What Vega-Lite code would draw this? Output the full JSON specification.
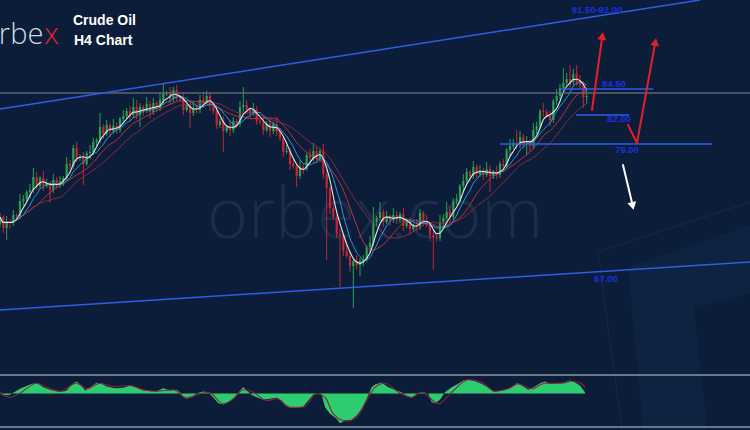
{
  "$schema": "https://vega.github.io/schema/vega-lite/v6.json",
  "width": 750,
  "height": 430,
  "autosize": {"type": "none"},
  "padding": 0,
  "background": "#0b1d38",
  "config": {"view": {"stroke": null}},
  "datasets": {
    "candles": [
      {"t":0,"o":71.0,"h":72.1,"l":70.7,"c":71.7},{"t":1,"o":71.7,"h":71.9,"l":70.1,"c":70.6},{"t":2,"o":70.6,"h":71.8,"l":69.4,"c":71.2},{"t":3,"o":71.2,"h":71.5,"l":70.5,"c":71.1},{"t":4,"o":71.1,"h":72.4,"l":70.8,"c":71.9},{"t":5,"o":71.9,"h":72.1,"l":71.5,"c":71.8},{"t":6,"o":71.8,"h":74.0,"l":71.5,"c":73.3},{"t":7,"o":73.3,"h":73.9,"l":72.8,"c":73.5},{"t":8,"o":73.5,"h":74.4,"l":73.3,"c":74.2},{"t":9,"o":74.2,"h":75.0,"l":73.6,"c":74.4},
      {"t":10,"o":74.4,"h":76.6,"l":74.1,"c":75.7},{"t":11,"o":75.7,"h":76.2,"l":74.4,"c":74.8},{"t":12,"o":74.8,"h":75.8,"l":74.5,"c":75.6},{"t":13,"o":75.6,"h":76.3,"l":74.3,"c":74.8},{"t":14,"o":74.8,"h":75.5,"l":74.6,"c":75.1},{"t":15,"o":75.1,"h":75.3,"l":73.1,"c":74.4},{"t":16,"o":74.4,"h":76.0,"l":74.1,"c":75.4},{"t":17,"o":75.4,"h":75.7,"l":74.5,"c":74.9},{"t":18,"o":74.9,"h":75.8,"l":74.6,"c":75.3},{"t":19,"o":75.3,"h":75.8,"l":74.8,"c":75.6},
      {"t":20,"o":75.6,"h":77.7,"l":75.4,"c":77.0},{"t":21,"o":77.0,"h":77.4,"l":76.2,"c":76.8},{"t":22,"o":76.8,"h":78.9,"l":76.5,"c":78.6},{"t":23,"o":78.6,"h":79.2,"l":77.2,"c":77.6},{"t":24,"o":77.6,"h":78.0,"l":77.3,"c":77.7},{"t":25,"o":77.7,"h":78.2,"l":74.9,"c":77.0},{"t":26,"o":77.0,"h":78.3,"l":76.8,"c":78.1},{"t":27,"o":78.1,"h":78.9,"l":77.5,"c":78.2},{"t":28,"o":78.2,"h":79.6,"l":77.9,"c":79.2},{"t":29,"o":79.2,"h":79.6,"l":78.8,"c":79.4},
      {"t":30,"o":79.4,"h":82.1,"l":79.1,"c":80.7},{"t":31,"o":80.7,"h":81.0,"l":79.5,"c":80.0},{"t":32,"o":80.0,"h":81.4,"l":79.8,"c":80.9},{"t":33,"o":80.9,"h":81.1,"l":79.7,"c":80.3},{"t":34,"o":80.3,"h":81.5,"l":80.0,"c":80.8},{"t":35,"o":80.8,"h":81.2,"l":80.0,"c":80.4},{"t":36,"o":80.4,"h":81.7,"l":80.1,"c":81.5},{"t":37,"o":81.5,"h":82.4,"l":81.0,"c":81.8},{"t":38,"o":81.8,"h":82.6,"l":81.6,"c":82.3},{"t":39,"o":82.3,"h":82.8,"l":81.3,"c":81.9},
      {"t":40,"o":81.9,"h":83.6,"l":81.6,"c":82.7},{"t":41,"o":82.7,"h":83.4,"l":81.5,"c":81.9},{"t":42,"o":81.9,"h":83.1,"l":80.7,"c":82.7},{"t":43,"o":82.7,"h":82.9,"l":81.8,"c":82.3},{"t":44,"o":82.3,"h":83.7,"l":82.1,"c":83.0},{"t":45,"o":83.0,"h":83.3,"l":81.6,"c":82.2},{"t":46,"o":82.2,"h":83.6,"l":81.9,"c":83.1},{"t":47,"o":83.1,"h":83.3,"l":82.2,"c":82.6},{"t":48,"o":82.6,"h":84.1,"l":82.3,"c":83.4},{"t":49,"o":83.4,"h":85.1,"l":82.9,"c":84.0},
      {"t":50,"o":84.0,"h":84.3,"l":83.8,"c":84.1},{"t":51,"o":84.1,"h":84.7,"l":82.9,"c":83.5},{"t":52,"o":83.5,"h":84.7,"l":83.2,"c":84.4},{"t":53,"o":84.4,"h":84.9,"l":83.3,"c":83.7},{"t":54,"o":83.7,"h":83.9,"l":83.2,"c":83.5},{"t":55,"o":83.5,"h":84.2,"l":81.9,"c":82.4},{"t":56,"o":82.4,"h":83.3,"l":82.2,"c":82.9},{"t":57,"o":82.9,"h":83.1,"l":80.6,"c":82.1},{"t":58,"o":82.1,"h":83.2,"l":81.8,"c":82.6},{"t":59,"o":82.6,"h":82.9,"l":82.0,"c":82.4},
      {"t":60,"o":82.4,"h":83.9,"l":82.1,"c":83.4},{"t":61,"o":83.4,"h":84.2,"l":82.7,"c":83.2},{"t":62,"o":83.2,"h":84.3,"l":83.0,"c":83.8},{"t":63,"o":83.8,"h":84.2,"l":82.3,"c":82.9},{"t":64,"o":82.9,"h":83.1,"l":82.0,"c":82.3},{"t":65,"o":82.3,"h":82.9,"l":80.5,"c":80.9},{"t":66,"o":80.9,"h":81.6,"l":80.6,"c":81.3},{"t":67,"o":81.3,"h":81.8,"l":78.2,"c":80.3},{"t":68,"o":80.3,"h":80.9,"l":80.1,"c":80.7},{"t":69,"o":80.7,"h":81.4,"l":79.8,"c":80.4},
      {"t":70,"o":80.4,"h":81.7,"l":80.1,"c":81.3},{"t":71,"o":81.3,"h":81.5,"l":80.6,"c":81.0},{"t":72,"o":81.0,"h":83.3,"l":80.7,"c":82.7},{"t":73,"o":82.7,"h":84.7,"l":82.2,"c":82.9},{"t":74,"o":82.9,"h":83.4,"l":82.3,"c":82.5},{"t":75,"o":82.5,"h":82.7,"l":81.5,"c":82.1},{"t":76,"o":82.1,"h":83.1,"l":81.8,"c":82.4},{"t":77,"o":82.4,"h":82.8,"l":80.9,"c":81.3},{"t":78,"o":81.3,"h":81.5,"l":80.9,"c":81.2},{"t":79,"o":81.2,"h":81.8,"l":79.9,"c":80.4},
      {"t":80,"o":80.4,"h":81.3,"l":80.2,"c":81.0},{"t":81,"o":81.0,"h":81.5,"l":79.7,"c":80.3},{"t":82,"o":80.3,"h":81.2,"l":80.0,"c":81.0},{"t":83,"o":81.0,"h":81.7,"l":79.8,"c":80.2},{"t":84,"o":80.2,"h":80.6,"l":79.3,"c":79.6},{"t":85,"o":79.6,"h":79.8,"l":77.7,"c":78.2},{"t":86,"o":78.2,"h":78.9,"l":78.0,"c":78.3},{"t":87,"o":78.3,"h":78.6,"l":76.4,"c":77.0},{"t":88,"o":77.0,"h":77.5,"l":76.5,"c":76.8},{"t":89,"o":76.8,"h":77.0,"l":74.7,"c":75.8},
      {"t":90,"o":75.8,"h":77.4,"l":75.5,"c":76.7},{"t":91,"o":76.7,"h":77.1,"l":76.0,"c":76.5},{"t":92,"o":76.5,"h":78.1,"l":76.3,"c":77.9},{"t":93,"o":77.9,"h":78.5,"l":77.0,"c":77.6},{"t":94,"o":77.6,"h":79.1,"l":77.3,"c":78.3},{"t":95,"o":78.3,"h":78.8,"l":77.1,"c":77.5},{"t":96,"o":77.5,"h":78.5,"l":77.2,"c":78.3},{"t":97,"o":78.3,"h":79.0,"l":75.5,"c":76.0},{"t":98,"o":76.0,"h":76.4,"l":67.4,"c":74.6},{"t":99,"o":74.6,"h":74.8,"l":72.0,"c":72.6},
      {"t":100,"o":72.6,"h":73.2,"l":71.4,"c":71.7},{"t":101,"o":71.7,"h":72.0,"l":69.6,"c":70.0},{"t":102,"o":70.0,"h":70.5,"l":64.7,"c":69.9},{"t":103,"o":69.9,"h":70.1,"l":67.8,"c":68.3},{"t":104,"o":68.3,"h":69.0,"l":67.6,"c":67.8},{"t":105,"o":67.8,"h":68.2,"l":66.2,"c":66.8},{"t":106,"o":66.8,"h":67.5,"l":62.6,"c":67.3},{"t":107,"o":67.3,"h":67.9,"l":66.5,"c":66.9},{"t":108,"o":66.9,"h":67.6,"l":65.8,"c":67.3},{"t":109,"o":67.3,"h":67.9,"l":66.8,"c":67.4},
      {"t":110,"o":67.4,"h":68.9,"l":67.2,"c":68.7},{"t":111,"o":68.7,"h":69.8,"l":68.1,"c":69.1},{"t":112,"o":69.1,"h":72.7,"l":68.8,"c":71.2},{"t":113,"o":71.2,"h":71.8,"l":70.8,"c":71.6},{"t":114,"o":71.6,"h":73.2,"l":71.3,"c":72.2},{"t":115,"o":72.2,"h":72.5,"l":70.7,"c":71.2},{"t":116,"o":71.2,"h":72.3,"l":71.0,"c":71.8},{"t":117,"o":71.8,"h":72.0,"l":70.8,"c":71.4},{"t":118,"o":71.4,"h":72.6,"l":71.1,"c":71.9},{"t":119,"o":71.9,"h":72.3,"l":71.0,"c":71.4},
      {"t":120,"o":71.4,"h":72.2,"l":71.1,"c":72.0},{"t":121,"o":72.0,"h":72.6,"l":70.3,"c":70.8},{"t":122,"o":70.8,"h":71.5,"l":70.6,"c":71.2},{"t":123,"o":71.2,"h":71.7,"l":69.9,"c":70.5},{"t":124,"o":70.5,"h":71.0,"l":70.2,"c":70.8},{"t":125,"o":70.8,"h":71.5,"l":70.3,"c":70.7},{"t":126,"o":70.7,"h":72.5,"l":70.4,"c":72.1},{"t":127,"o":72.1,"h":72.3,"l":70.8,"c":71.3},{"t":128,"o":71.3,"h":71.9,"l":70.7,"c":70.9},{"t":129,"o":70.9,"h":71.2,"l":69.3,"c":69.9},
      {"t":130,"o":69.9,"h":70.4,"l":66.4,"c":69.7},{"t":131,"o":69.7,"h":69.9,"l":69.2,"c":69.6},{"t":132,"o":69.6,"h":71.9,"l":69.3,"c":71.2},{"t":133,"o":71.2,"h":72.0,"l":70.7,"c":71.6},{"t":134,"o":71.6,"h":73.2,"l":71.4,"c":72.2},{"t":135,"o":72.2,"h":72.8,"l":71.1,"c":71.7},{"t":136,"o":71.7,"h":73.6,"l":71.4,"c":73.3},{"t":137,"o":73.3,"h":74.0,"l":72.9,"c":73.5},{"t":138,"o":73.5,"h":75.0,"l":73.2,"c":74.8},{"t":139,"o":74.8,"h":76.0,"l":74.3,"c":75.3},
      {"t":140,"o":75.3,"h":76.6,"l":75.1,"c":76.2},{"t":141,"o":76.2,"h":76.4,"l":75.2,"c":75.8},{"t":142,"o":75.8,"h":77.3,"l":75.5,"c":76.7},{"t":143,"o":76.7,"h":77.0,"l":75.6,"c":76.0},{"t":144,"o":76.0,"h":76.9,"l":75.7,"c":76.4},{"t":145,"o":76.4,"h":76.6,"l":75.4,"c":75.9},{"t":146,"o":75.9,"h":77.2,"l":75.7,"c":76.5},{"t":147,"o":76.5,"h":76.9,"l":74.2,"c":75.8},{"t":148,"o":75.8,"h":76.4,"l":75.5,"c":76.2},{"t":149,"o":76.2,"h":76.8,"l":75.5,"c":75.9},
      {"t":150,"o":75.9,"h":77.3,"l":75.6,"c":77.0},{"t":151,"o":77.0,"h":77.5,"l":76.3,"c":76.8},{"t":152,"o":76.8,"h":78.6,"l":76.6,"c":78.4},{"t":153,"o":78.4,"h":79.5,"l":77.8,"c":78.8},{"t":154,"o":78.8,"h":79.5,"l":78.5,"c":79.1},{"t":155,"o":79.1,"h":80.4,"l":78.5,"c":78.9},{"t":156,"o":78.9,"h":80.3,"l":78.6,"c":79.7},{"t":157,"o":79.7,"h":80.0,"l":78.6,"c":79.1},{"t":158,"o":79.1,"h":79.8,"l":77.9,"c":79.3},{"t":159,"o":79.3,"h":79.5,"l":78.2,"c":78.8},
      {"t":160,"o":78.8,"h":81.1,"l":78.5,"c":80.4},{"t":161,"o":80.4,"h":81.2,"l":80.0,"c":80.8},{"t":162,"o":80.8,"h":82.5,"l":80.5,"c":82.3},{"t":163,"o":82.3,"h":83.1,"l":81.7,"c":82.2},{"t":164,"o":82.2,"h":82.5,"l":81.6,"c":81.8},{"t":165,"o":81.8,"h":82.3,"l":80.8,"c":81.4},{"t":166,"o":81.4,"h":83.5,"l":81.1,"c":83.3},{"t":167,"o":83.3,"h":84.5,"l":82.9,"c":83.8},{"t":168,"o":83.8,"h":85.0,"l":83.5,"c":84.6},{"t":169,"o":84.6,"h":86.6,"l":84.4,"c":85.1},
      {"t":170,"o":85.1,"h":86.1,"l":84.9,"c":85.5},{"t":171,"o":85.5,"h":86.9,"l":84.6,"c":85.2},{"t":172,"o":85.2,"h":86.5,"l":84.9,"c":86.0},{"t":173,"o":86.0,"h":86.9,"l":84.8,"c":85.2},{"t":174,"o":85.2,"h":85.9,"l":84.6,"c":84.9},{"t":175,"o":84.9,"h":85.3,"l":82.6,"c":83.7},{"t":176,"o":83.7,"h":84.6,"l":83.0,"c":83.8}
    ],
    "osc": [
      {"t":0,"v":0},{"t":1,"v":-2},{"t":3,"v":-1.3},{"t":6,"v":4.7},{"t":9,"v":9},{"t":11,"v":10.7},{"t":13,"v":6.3},{"t":15,"v":3.7},{"t":17,"v":2.3},{"t":19,"v":2},{"t":20,"v":3},{"t":21.5,"v":9},{"t":23,"v":12},{"t":24.5,"v":8},{"t":25.5,"v":3},{"t":27,"v":6.3},{"t":29,"v":10.7},{"t":30.5,"v":9.7},{"t":32,"v":7},{"t":34.5,"v":5.3},{"t":37,"v":5.7},{"t":39,"v":8},{"t":41,"v":5.7},{"t":43,"v":3},{"t":45,"v":2.3},{"t":47,"v":2.3},{"t":49,"v":5.3},{"t":51,"v":3},{"t":53,"v":3.7},{"t":54,"v":1.3},{"t":55,"v":-3.7},{"t":56,"v":-5.3},{"t":57.5,"v":-3.7},{"t":59,"v":0.3},{"t":61,"v":2},{"t":62.5,"v":1},{"t":64,"v":-4.3},{"t":65.5,"v":-9.7},{"t":67,"v":-11},{"t":69,"v":-7.7},{"t":70.5,"v":-3},{"t":72,"v":3},{"t":73,"v":6.3},{"t":74,"v":3},{"t":75.5,"v":-1.3},{"t":77,"v":-3.7},{"t":79,"v":-6.3},{"t":81,"v":-5.3},{"t":83,"v":-4.3},{"t":84.5,"v":-7},{"t":85.5,"v":-12},{"t":87,"v":-14.3},{"t":89,"v":-14.3},{"t":91,"v":-13},{"t":92.5,"v":-7},{"t":94,"v":-1},{"t":95.5,"v":0.3},{"t":96.5,"v":-1.3},{"t":97.5,"v":-13.7},{"t":99,"v":-20.3},{"t":101,"v":-25.3},{"t":102,"v":-29.7},{"t":103.5,"v":-27},{"t":105.5,"v":-26.3},{"t":107,"v":-22},{"t":108.5,"v":-15.3},{"t":110,"v":-5.3},{"t":111.5,"v":6.3},{"t":112.5,"v":9},{"t":114.5,"v":11},{"t":116.5,"v":6.3},{"t":118.5,"v":3.7},{"t":120.5,"v":1.3},{"t":122,"v":-3},{"t":123.5,"v":-4.3},{"t":125.5,"v":0.7},{"t":127,"v":1.3},{"t":128.5,"v":-0.3},{"t":129.5,"v":-8.7},{"t":130.5,"v":-9.7},{"t":132,"v":-6.3},{"t":133.5,"v":1.3},{"t":135.5,"v":6.3},{"t":137.5,"v":9.7},{"t":139,"v":13},{"t":140.5,"v":14},{"t":142.5,"v":12.3},{"t":144.5,"v":9.7},{"t":146.5,"v":5.7},{"t":148,"v":2},{"t":149.5,"v":2.3},{"t":151.5,"v":3.7},{"t":153.5,"v":6.3},{"t":155,"v":10.3},{"t":156.5,"v":8},{"t":158.5,"v":3.7},{"t":160.5,"v":7},{"t":162,"v":10.3},{"t":163.5,"v":12},{"t":165,"v":9.7},{"t":167,"v":10.3},{"t":169,"v":10.7},{"t":171,"v":13},{"t":172.5,"v":11},{"t":174,"v":8},{"t":175.5,"v":1.3}
    ],
    "sig": [
      {"t":0,"s":1.3},{"t":3,"s":-3.7},{"t":6,"s":0.3},{"t":11,"s":10.3},{"t":15,"s":4.7},{"t":18,"s":2.3},{"t":23,"s":10.3},{"t":26,"s":4.7},{"t":30,"s":10.3},{"t":34,"s":7},{"t":39,"s":8},{"t":43,"s":3.7},{"t":47,"s":2.3},{"t":52,"s":3.7},{"t":56,"s":-4.3},{"t":60,"s":-0.3},{"t":62.5,"s":1.3},{"t":67,"s":-10.3},{"t":70,"s":-5.3},{"t":73,"s":3.7},{"t":76,"s":1.3},{"t":80,"s":-7},{"t":83,"s":-5.3},{"t":87,"s":-13.7},{"t":91,"s":-13.7},{"t":95,"s":-0.3},{"t":97.5,"s":-3.7},{"t":100,"s":-20.3},{"t":104,"s":-27.7},{"t":107,"s":-23.7},{"t":110,"s":-7},{"t":112.5,"s":6.3},{"t":115.5,"s":10.3},{"t":118.5,"s":3.7},{"t":123.5,"s":-3.7},{"t":126.5,"s":1.3},{"t":131.5,"s":-10.3},{"t":135.5,"s":1.3},{"t":140.5,"s":13.7},{"t":144.5,"s":11.3},{"t":148.5,"s":2.3},{"t":152.5,"s":4.7},{"t":155.5,"s":9.7},{"t":159.5,"s":4.7},{"t":163.5,"s":10.3},{"t":168.5,"s":10.3},{"t":171.5,"s":12.3},{"t":174.5,"s":9.7},{"t":175.5,"s":5.7}
    ],
    "band": [
      {"k":0,"t":188.4,"p":66.7},{"k":1,"t":225,"p":70.9},{"k":2,"t":225,"p":64.1},{"k":3,"t":208.2,"p":62.7},{"k":4,"t":212.1,"p":50.4},{"k":5,"t":192.9,"p":50.4},{"k":6,"t":188.4,"p":66.7}
    ],
    "segments": [
      {"id":"faint1","kind":"faint","t1":179.4,"p1":68.2,"t2":225,"p2":73.2},
      {"id":"faint2","kind":"faint","t1":179.4,"p1":68.2,"t2":186.6,"p2":50.4},
      {"id":"upper","kind":"blue","t1":0,"p1":82.5,"t2":210,"p2":93.4},
      {"id":"lower","kind":"blue","t1":0,"p1":62.4,"t2":225,"p2":67.2},
      {"id":"l845","kind":"blue","t1":168,"p1":84.5,"t2":196,"p2":84.5},
      {"id":"l82","kind":"blue","t1":172.8,"p1":81.9,"t2":188.7,"p2":81.9},
      {"id":"l79","kind":"blue","t1":150,"p1":79.0,"t2":213.6,"p2":79.0},
      {"id":"grey","kind":"grey","t1":0,"p1":84.1,"t2":225,"p2":84.1},
      {"id":"a1","kind":"red","t1":177.6,"p1":82.4,"t2":180.7,"p2":89.8},
      {"id":"a2a","kind":"red","t1":188.4,"p1":80.9,"t2":191.1,"p2":79.1},
      {"id":"a2b","kind":"red","t1":191.1,"p1":79.1,"t2":196.6,"p2":89.2},
      {"id":"w1","kind":"white","t1":186.9,"p1":76.9,"t2":189.7,"p2":73.0}
    ],
    "heads": [
      {"id":"a1","t":180.7,"p":89.8},
      {"id":"a2","t":196.6,"p":89.2},
      {"id":"w1","t":189.8,"p":72.8}
    ],
    "levels": [
      {"label":"91.50-92.00","t":179.1,"p":92.4},
      {"label":"84.50","t":184.2,"p":85.0},
      {"label":"82.00","t":185.7,"p":81.5},
      {"label":"79.00","t":188.1,"p":78.4},
      {"label":"67.00","t":181.8,"p":65.5}
    ]
  },
  "layer": [
    {
      "layer": [
        {
          "data": {"name": "band"},
          "mark": {"type": "line", "fill": "#11284a", "fillOpacity": 0.5, "strokeWidth": 0},
          "encoding": {
            "x": {"field": "t", "type": "quantitative", "scale": {"domain": [0, 225], "nice": false, "zero": false}, "axis": null},
            "y": {"field": "p", "type": "quantitative", "scale": {"domain": [50.4, 93.4], "nice": false, "zero": false}, "axis": null},
            "order": {"field": "k"}
          }
        },
        {
          "data": {"name": "segments"},
          "transform": [{"filter": "datum.kind == 'faint'"}],
          "mark": {"type": "rule", "color": "#142c4b", "strokeWidth": 1},
          "encoding": {
            "x": {"field": "t1", "type": "quantitative", "axis": null},
            "x2": {"field": "t2"},
            "y": {"field": "p1", "type": "quantitative", "axis": null},
            "y2": {"field": "p2"}
          }
        },
        {
          "data": {"values": [{"text": "orbex.com", "t": 112.5, "p": 69.6}]},
          "mark": {"type": "text", "font": "Open Sans", "fontSize": 70, "fontWeight": 300, "color": "#1b2d4a", "align": "center", "baseline": "alphabetic"},
          "encoding": {
            "x": {"field": "t", "type": "quantitative", "axis": null},
            "y": {"field": "p", "type": "quantitative", "axis": null},
            "text": {"field": "text"}
          }
        },
        {
          "data": {"name": "candles"},
          "mark": {"type": "rule", "strokeWidth": 1},
          "encoding": {
            "x": {"field": "t", "type": "quantitative", "axis": null},
            "y": {"field": "l", "type": "quantitative", "axis": null},
            "y2": {"field": "h"},
            "color": {"condition": {"test": "datum.c >= datum.o", "value": "#2a9f4c"}, "value": "#c42636"}
          }
        },
        {
          "data": {"name": "candles"},
          "mark": {"type": "rule", "strokeWidth": 2.2},
          "encoding": {
            "x": {"field": "t", "type": "quantitative", "axis": null},
            "y": {"field": "o", "type": "quantitative", "axis": null},
            "y2": {"field": "c"},
            "color": {"condition": {"test": "datum.c >= datum.o", "value": "#2a9f4c"}, "value": "#c42636"}
          }
        },
        {
          "data": {"name": "candles"},
          "transform": [{"window": [{"op": "mean", "field": "c", "as": "ma"}], "frame": [-18, 0], "sort": [{"field": "t"}]}],
          "mark": {"type": "line", "color": "#8a2a3c", "strokeWidth": 1, "interpolate": "monotone"},
          "encoding": {
            "x": {"field": "t", "type": "quantitative", "axis": null},
            "y": {"field": "ma", "type": "quantitative", "axis": null}
          }
        },
        {
          "data": {"name": "candles"},
          "transform": [{"window": [{"op": "mean", "field": "c", "as": "ma"}], "frame": [-11, 0], "sort": [{"field": "t"}]}],
          "mark": {"type": "line", "color": "#c0323f", "strokeWidth": 1, "interpolate": "monotone"},
          "encoding": {
            "x": {"field": "t", "type": "quantitative", "axis": null},
            "y": {"field": "ma", "type": "quantitative", "axis": null}
          }
        },
        {
          "data": {"name": "candles"},
          "transform": [{"window": [{"op": "mean", "field": "c", "as": "ma"}], "frame": [-6, 0], "sort": [{"field": "t"}]}],
          "mark": {"type": "line", "color": "#22a3d6", "strokeWidth": 1, "interpolate": "monotone"},
          "encoding": {
            "x": {"field": "t", "type": "quantitative", "axis": null},
            "y": {"field": "ma", "type": "quantitative", "axis": null}
          }
        },
        {
          "data": {"name": "candles"},
          "transform": [{"window": [{"op": "mean", "field": "c", "as": "ma"}], "frame": [-3, 0], "sort": [{"field": "t"}]}],
          "mark": {"type": "line", "color": "#e4e8ee", "strokeWidth": 1.1, "interpolate": "monotone"},
          "encoding": {
            "x": {"field": "t", "type": "quantitative", "axis": null},
            "y": {"field": "ma", "type": "quantitative", "axis": null}
          }
        },
        {
          "data": {"name": "segments"},
          "transform": [{"filter": "datum.kind == 'grey'"}],
          "mark": {"type": "rule", "color": "#5d6675", "strokeWidth": 1.3},
          "encoding": {
            "x": {"field": "t1", "type": "quantitative", "axis": null},
            "x2": {"field": "t2"},
            "y": {"field": "p1", "type": "quantitative", "axis": null},
            "y2": {"field": "p2"}
          }
        },
        {
          "data": {"name": "segments"},
          "transform": [{"filter": "datum.kind == 'blue'"}],
          "mark": {"type": "rule", "color": "#2d5fe6", "strokeWidth": 1.5},
          "encoding": {
            "x": {"field": "t1", "type": "quantitative", "axis": null},
            "x2": {"field": "t2"},
            "y": {"field": "p1", "type": "quantitative", "axis": null},
            "y2": {"field": "p2"}
          }
        },
        {
          "data": {"name": "segments"},
          "transform": [{"filter": "datum.kind == 'red'"}],
          "mark": {"type": "rule", "color": "#e31f2b", "strokeWidth": 2, "strokeCap": "round"},
          "encoding": {
            "x": {"field": "t1", "type": "quantitative", "axis": null},
            "x2": {"field": "t2"},
            "y": {"field": "p1", "type": "quantitative", "axis": null},
            "y2": {"field": "p2"}
          }
        },
        {
          "data": {"name": "segments"},
          "transform": [{"filter": "datum.kind == 'white'"}],
          "mark": {"type": "rule", "color": "#ffffff", "strokeWidth": 2, "strokeCap": "round"},
          "encoding": {
            "x": {"field": "t1", "type": "quantitative", "axis": null},
            "x2": {"field": "t2"},
            "y": {"field": "p1", "type": "quantitative", "axis": null},
            "y2": {"field": "p2"}
          }
        },
        {
          "data": {"name": "heads"},
          "transform": [{"filter": "datum.id == 'a1'"}],
          "mark": {"type": "point", "shape": "triangle-up", "filled": true, "color": "#e31f2b", "opacity": 1, "size": 80, "angle": 8},
          "encoding": {
            "x": {"field": "t", "type": "quantitative", "axis": null},
            "y": {"field": "p", "type": "quantitative", "axis": null}
          }
        },
        {
          "data": {"name": "heads"},
          "transform": [{"filter": "datum.id == 'a2'"}],
          "mark": {"type": "point", "shape": "triangle-up", "filled": true, "color": "#e31f2b", "opacity": 1, "size": 80, "angle": 10},
          "encoding": {
            "x": {"field": "t", "type": "quantitative", "axis": null},
            "y": {"field": "p", "type": "quantitative", "axis": null}
          }
        },
        {
          "data": {"name": "heads"},
          "transform": [{"filter": "datum.id == 'w1'"}],
          "mark": {"type": "point", "shape": "triangle-down", "filled": true, "color": "#ffffff", "opacity": 1, "size": 80, "angle": -13},
          "encoding": {
            "x": {"field": "t", "type": "quantitative", "axis": null},
            "y": {"field": "p", "type": "quantitative", "axis": null}
          }
        },
        {
          "data": {"name": "levels"},
          "mark": {"type": "text", "font": "Liberation Sans", "fontSize": 9.5, "fontWeight": "bold", "color": "#1d2fe0", "align": "center", "baseline": "middle"},
          "encoding": {
            "x": {"field": "t", "type": "quantitative", "axis": null},
            "y": {"field": "p", "type": "quantitative", "axis": null},
            "text": {"field": "label"}
          }
        },
        {
          "data": {"values": [{"text": "Crude Oil", "t": 21.9, "p": 91.3}, {"text": "H4 Chart", "t": 22.2, "p": 89.3}]},
          "mark": {"type": "text", "font": "Liberation Sans", "fontSize": 14, "fontWeight": "bold", "color": "#ffffff", "align": "left", "baseline": "middle"},
          "encoding": {
            "x": {"field": "t", "type": "quantitative", "axis": null},
            "y": {"field": "p", "type": "quantitative", "axis": null},
            "text": {"field": "text"}
          }
        },
        {
          "data": {"values": [{"text": "orbe", "t": 13.0, "p": 89.0}]},
          "mark": {"type": "text", "font": "Open Sans", "fontSize": 29, "fontWeight": 300, "color": "#d4d8de", "align": "right", "baseline": "alphabetic"},
          "encoding": {
            "x": {"field": "t", "type": "quantitative", "axis": null},
            "y": {"field": "p", "type": "quantitative", "axis": null},
            "text": {"field": "text"}
          }
        },
        {
          "data": {"values": [{"text": "x", "t": 13.3, "p": 89.0}]},
          "mark": {"type": "text", "font": "Open Sans", "fontSize": 29, "fontWeight": 300, "color": "#e3202f", "align": "left", "baseline": "alphabetic"},
          "encoding": {
            "x": {"field": "t", "type": "quantitative", "axis": null},
            "y": {"field": "p", "type": "quantitative", "axis": null},
            "text": {"field": "text"}
          }
        }
      ]
    },
    {
      "layer": [
        {
          "data": {"name": "osc"},
          "mark": {"type": "area", "color": "#2ecc71", "opacity": 1},
          "encoding": {
            "x": {"field": "t", "type": "quantitative", "axis": null},
            "y": {"field": "v", "type": "quantitative", "scale": {"domain": [-36.5, 393.5], "nice": false, "zero": false}, "axis": null},
            "y2": {"datum": 0}
          }
        },
        {
          "data": {"name": "sig"},
          "mark": {"type": "line", "color": "#8e2236", "strokeWidth": 1.1, "interpolate": "monotone"},
          "encoding": {
            "x": {"field": "t", "type": "quantitative", "axis": null},
            "y": {"field": "s", "type": "quantitative", "axis": null}
          }
        },
        {
          "data": {"values": [{"edge": 18.5}, {"edge": -33.5}]},
          "mark": {"type": "rule", "color": "#8d949f", "strokeWidth": 1.6},
          "encoding": {
            "y": {"field": "edge", "type": "quantitative", "axis": null}
          }
        }
      ]
    }
  ],
  "resolve": {"scale": {"y": "independent"}}
}
